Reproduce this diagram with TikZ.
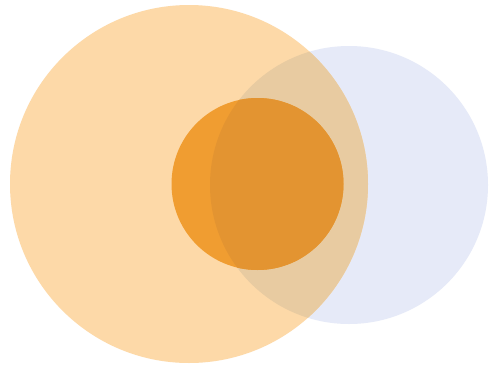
\documentclass[tikz,border=0pt]{standalone}
\definecolor{peach}{HTML}{FDD9A8}
\definecolor{paleblue}{HTML}{E6EAF8}
\definecolor{tan}{HTML}{E8CBA1}
\definecolor{orangeL}{HTML}{F09D31}
\definecolor{orangeD}{HTML}{E39431}
\begin{document}
\begin{tikzpicture}[x=1pt,y=-1pt]
\useasboundingbox (0,0) rectangle (492,372);
\fill[white] (0,0) rectangle (492,372);
\fill[paleblue] (349,185) circle (139);
\fill[peach] (189,184) circle (179);
\begin{scope}
\clip (189,184) circle (179);
\fill[tan] (349,185) circle (139);
\end{scope}
\fill[orangeL] (257.5,184) circle (86);
\begin{scope}
\clip (257.5,184) circle (86);
\fill[orangeD] (349,185) circle (139);
\end{scope}
\end{tikzpicture}
\end{document}
